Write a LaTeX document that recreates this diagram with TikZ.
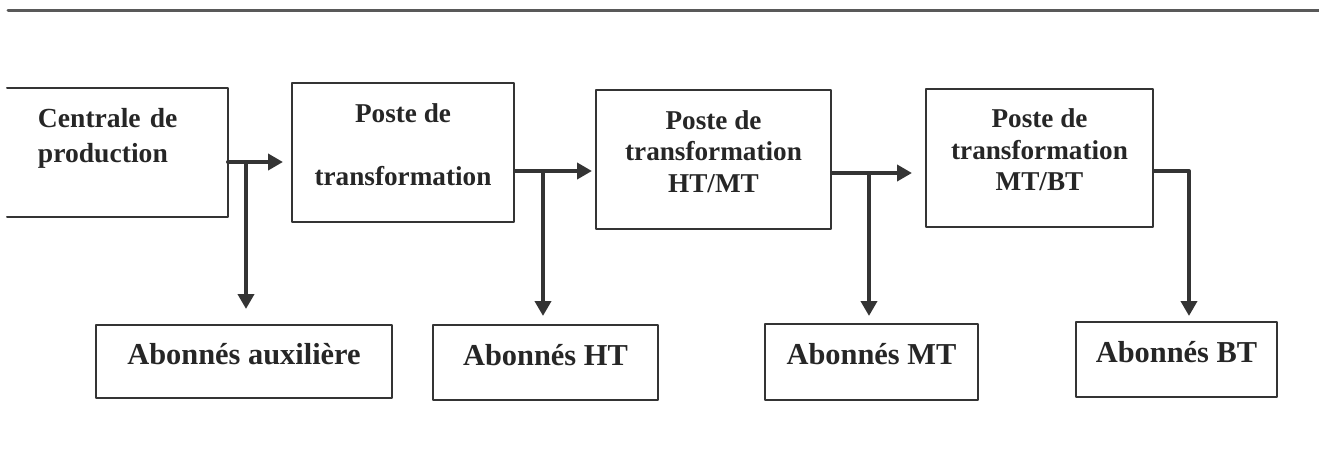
\documentclass[tikz,border=0pt]{standalone}
\usepackage{fontspec}
\setmainfont{Liberation Serif}
\usetikzlibrary{arrows.meta}
\definecolor{trait}{RGB}{52,52,52}
\definecolor{encre}{RGB}{38,38,38}
\tikzset{
  boite/.style={draw=trait,line width=1pt,text=encre,align=center,inner sep=0pt,
    font=\bfseries\fontsize{13.6}{15.75}\selectfont,text depth=8pt},
  abonne/.style={boite,font=\bfseries\fontsize{15.2}{18}\selectfont},
  fleche/.style={draw=trait,line width=2pt,-{Triangle[length=7.5pt,width=8pt]}}
}
\begin{document}
\begin{tikzpicture}[line cap=round,line join=round,x=0.5pt,y=-0.5pt]
      \useasboundingbox (0,0) rectangle (1319,451);
      \draw[line width=1.5pt,color=black!65] (8,10) -- (1319,10);
      \node[boite,draw=none,align=left,text width=79.5pt,inner xsep=15pt,minimum height=63.5pt,
        text depth=35pt,font=\bfseries\fontsize{13.8}{17.5}\selectfont] (c1) at (117.5,152.5) {Centrale de\\production};
      \draw[trait,line width=1pt] (c1.north west) -- (c1.north east) -- (c1.south east) -- (c1.south west);
      \node[boite,minimum width=111pt,minimum height=69.5pt] (p1) at (403,152.5) {Poste de\\[15.5pt]transformation};
      \node[boite,minimum width=117.5pt,minimum height=69.5pt] (p2) at (713.5,159.5) {Poste de\\transformation\\HT/MT};
      \node[boite,minimum width=113.5pt,minimum height=69pt] (p3) at (1039.5,158) {Poste de\\transformation\\MT/BT};
      \foreach \n/\x/\y/\w/\h/\t in {a1/244/361.5/148/36.5/{Abonnés auxilière},a2/545.5/362.5/112.5/37.5/{Abonnés HT},
        a3/871.5/362/106.5/38/{Abonnés MT},a4/1176.5/359.5/100.5/37.5/{Abonnés BT}}
      \node[abonne,minimum width=\w pt,minimum height=\h pt] (\n) at (\x,\y) {\t};
      \coordinate (j1) at (c1.east |- 0,162);
      \coordinate (j2) at (p1.east |- 0,171);
      \coordinate (j3) at (p2.east |- 0,173);
      \coordinate (j4) at (p3.east |- 0,171);
      \coordinate (b1) at (246,162);
      \coordinate (b2) at (543,171);
      \coordinate (b3) at (869,173);
      \coordinate (b4) at (1189,171);
      \draw[fleche,shorten >=4pt] (j1) -- (j1 -| p1.west);
      \draw[fleche,shorten >=1.5pt] (j2) -- (j2 -| p2.west);
      \draw[fleche,shorten >=6.5pt] (j3) -- (j3 -| p3.west);
      \draw[fleche,shorten >=7.5pt] (b1) -- (b1 |- a1.north);
      \draw[fleche,shorten >=4pt] (b2) -- (b2 |- a2.north);
      \draw[fleche,shorten >=3.5pt] (b3) -- (b3 |- a3.north);
      \draw[fleche,shorten >=2.5pt] (j4) -- (b4) -- (b4 |- a4.north);
    \end{tikzpicture}
\end{document}
